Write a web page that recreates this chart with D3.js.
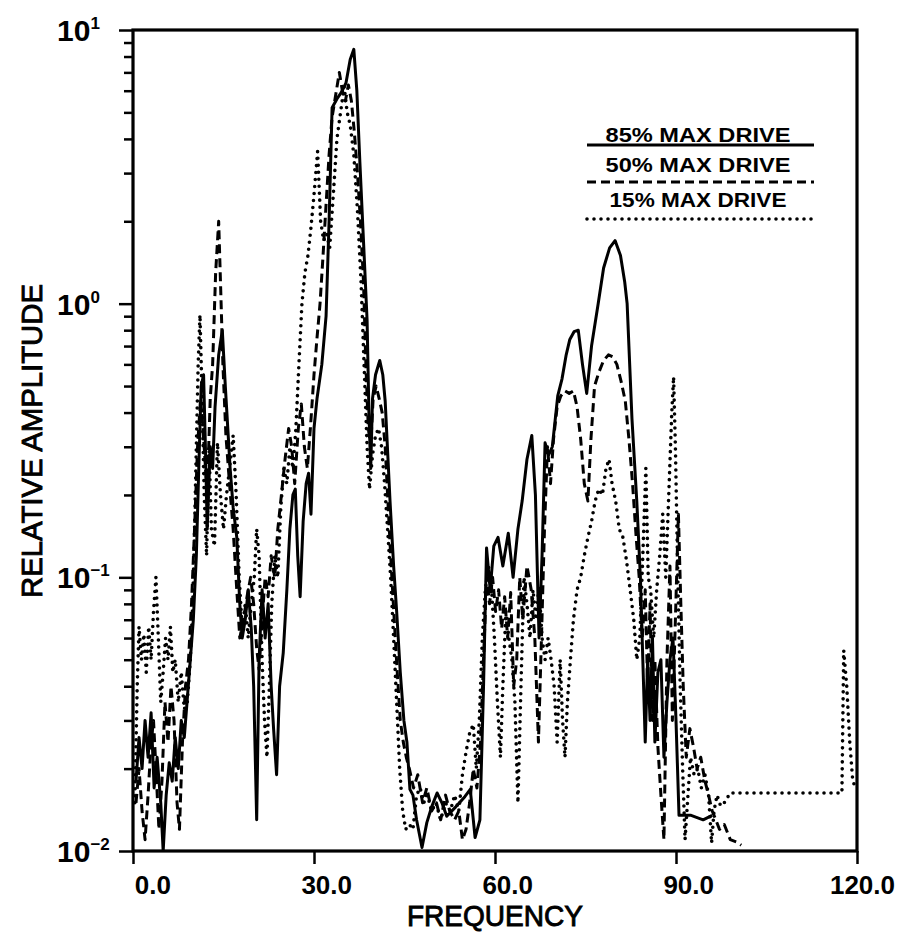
<!DOCTYPE html>
<html><head><meta charset="utf-8">
<script src="https://cdn.jsdelivr.net/npm/d3@7"></script>
<style>html,body{margin:0;padding:0;background:#fff;}svg{display:block;}</style>
</head><body>
<svg id="chart" width="902" height="933"></svg>
<script>
// ---- data (frequency, relative amplitude) ----
const seriesLabels = ["85% MAX DRIVE", "50% MAX DRIVE", "15% MAX DRIVE"];
const xTickValues = [0, 30, 60, 90, 120];
const xTickLabels = ["0.0", "30.0", "60.0", "90.0", "120.0"];
const yDecades = [0.01, 0.1, 1, 10];
const yExponents = ["-2", "-1", "0", "1"];

const drive85 = [[0.5,0.018],[1.0,0.026],[1.5,0.02],[2.0,0.03],[2.5,0.022],[3.0,0.032],[3.5,0.017],[4.0,0.022],[4.6,0.015],[5.0,0.010],[5.5,0.016],[6.0,0.021],[6.5,0.018],[7.0,0.026],[7.5,0.02],[8.0,0.03],[8.5,0.026],[9.0,0.036],[9.5,0.05],[10.0,0.07],[10.5,0.12],[10.9,0.25],[11.3,0.5],[11.7,0.55],[12.0,0.3],[12.3,0.15],[12.8,0.3],[13.2,0.25],[13.6,0.42],[14.2,0.65],[14.8,0.8],[15.3,0.5],[16.1,0.25],[16.6,0.18],[17.2,0.14],[17.7,0.08],[18.1,0.06],[18.6,0.07],[19.1,0.09],[19.6,0.065],[20.0,0.04],[20.5,0.013],[20.9,0.05],[21.4,0.09],[21.9,0.06],[22.4,0.08],[22.9,0.04],[23.3,0.028],[23.8,0.019],[24.3,0.04],[24.9,0.053],[25.5,0.09],[26.0,0.15],[26.5,0.2],[26.9,0.21],[27.3,0.12],[27.7,0.085],[28.2,0.16],[28.7,0.22],[29.1,0.24],[29.5,0.17],[30.0,0.35],[30.5,0.45],[31.3,0.6],[32.0,0.9],[32.5,2.0],[33.0,5.2],[33.8,5.6],[34.5,5.9],[35.3,6.4],[36.0,7.8],[36.6,8.5],[37.1,6.0],[37.6,3.3],[38.2,1.7],[38.8,0.87],[39.1,0.4],[39.4,0.25],[39.7,0.45],[40.2,0.55],[40.9,0.62],[41.4,0.55],[41.8,0.44],[42.6,0.19],[43.2,0.11],[43.7,0.075],[44.3,0.045],[44.9,0.03],[45.4,0.025],[45.9,0.0168],[46.4,0.016],[47.0,0.013],[47.9,0.0103],[48.7,0.0127],[49.5,0.0145],[50.4,0.0163],[51.2,0.015],[52.0,0.0134],[53.5,0.0145],[55.0,0.0158],[55.9,0.0168],[56.7,0.0112],[57.5,0.013],[58.1,0.04],[58.6,0.128],[59.2,0.09],[59.8,0.13],[60.5,0.14],[61.3,0.11],[62.2,0.145],[63.0,0.1],[63.8,0.15],[64.5,0.19],[65.3,0.27],[66.1,0.33],[66.7,0.2],[67.3,0.06],[67.8,0.12],[68.3,0.31],[68.9,0.28],[69.5,0.3],[70.4,0.46],[71.1,0.53],[71.8,0.65],[72.4,0.74],[73.1,0.79],[73.8,0.8],[74.5,0.6],[75.2,0.47],[76.0,0.7],[77.1,1.0],[78.0,1.35],[79.0,1.6],[79.9,1.7],[80.8,1.5],[81.5,1.2],[81.9,1.0],[82.7,0.38],[83.5,0.19],[84.1,0.1],[84.5,0.05],[84.9,0.025],[85.3,0.05],[85.7,0.03],[86.1,0.06],[86.5,0.025],[87.0,0.045],[87.5,0.05],[88.0,0.022],[88.5,0.035],[89.0,0.05],[89.5,0.06],[90.0,0.03],[90.5,0.0135],[92.5,0.0135],[94.5,0.013],[96.0,0.0135]];

const drive50 = [[0.5,0.015],[1.0,0.02],[1.5,0.014],[2.0,0.011],[2.5,0.016],[3.0,0.025],[3.4,0.03],[3.8,0.02],[4.3,0.012],[4.8,0.018],[5.3,0.035],[5.8,0.025],[6.3,0.04],[6.8,0.03],[7.3,0.015],[7.7,0.012],[8.2,0.025],[8.7,0.04],[9.2,0.05],[9.7,0.08],[10.2,0.15],[10.7,0.3],[11.2,0.45],[11.6,0.35],[12.3,0.2],[12.8,0.45],[13.2,0.6],[13.7,1.3],[14.2,2.0],[14.5,1.2],[14.9,0.6],[15.4,0.33],[16.0,0.22],[16.6,0.15],[17.2,0.09],[17.7,0.06],[18.3,0.07],[18.9,0.085],[19.5,0.1],[20.0,0.08],[20.5,0.055],[20.9,0.046],[21.4,0.07],[21.9,0.1],[22.4,0.085],[22.9,0.12],[23.5,0.1],[24.0,0.15],[24.6,0.2],[25.2,0.27],[25.8,0.35],[26.3,0.3],[26.8,0.22],[27.4,0.35],[27.9,0.43],[28.4,0.3],[28.9,0.25],[29.4,0.35],[30.0,0.55],[30.5,0.75],[31.0,1.0],[31.5,1.5],[32.0,2.3],[32.5,3.5],[33.0,4.8],[33.6,5.8],[34.2,7.0],[34.7,6.0],[35.2,5.5],[35.7,6.3],[36.2,5.5],[36.7,4.2],[37.2,3.0],[37.7,2.0],[38.2,1.2],[38.6,0.6],[39.0,0.35],[39.4,0.3],[39.8,0.45],[40.3,0.5],[40.8,0.45],[41.3,0.4],[41.8,0.3],[42.3,0.18],[42.8,0.11],[43.3,0.07],[43.8,0.045],[44.3,0.03],[44.8,0.025],[45.3,0.022],[45.8,0.02],[46.5,0.017],[47.2,0.019],[48.0,0.015],[48.7,0.017],[49.5,0.014],[50.3,0.015],[51.0,0.013],[51.8,0.016],[52.5,0.014],[53.3,0.013],[54.0,0.014],[54.6,0.011],[55.2,0.012],[55.8,0.015],[56.4,0.02],[57.0,0.017],[57.6,0.025],[58.1,0.05],[58.6,0.1],[59.1,0.08],[59.6,0.1],[60.1,0.075],[60.6,0.09],[61.1,0.065],[61.6,0.085],[62.1,0.06],[62.6,0.088],[63.1,0.04],[63.6,0.05],[64.1,0.1],[64.6,0.07],[65.3,0.11],[66.0,0.09],[66.6,0.06],[67.2,0.025],[67.7,0.06],[68.2,0.15],[68.7,0.3],[69.2,0.22],[69.7,0.32],[70.3,0.42],[70.9,0.46],[71.6,0.48],[72.3,0.47],[73.0,0.48],[73.6,0.42],[74.2,0.32],[74.8,0.22],[75.4,0.19],[75.9,0.32],[76.5,0.5],[77.2,0.56],[78.0,0.62],[78.8,0.65],[79.5,0.64],[80.2,0.6],[80.9,0.52],[81.6,0.44],[82.2,0.32],[82.8,0.22],[83.4,0.14],[83.9,0.1],[84.4,0.06],[84.9,0.09],[85.3,0.04],[85.7,0.08],[86.1,0.03],[86.5,0.05],[87.0,0.024],[87.5,0.016],[88.0,0.011],[88.5,0.05],[89.0,0.11],[89.4,0.03],[89.9,0.07],[90.4,0.17],[90.8,0.08],[91.2,0.04],[91.7,0.022],[92.3,0.028],[92.9,0.024],[93.5,0.02],[94.1,0.022],[94.8,0.018],[95.4,0.016],[96.0,0.014],[96.6,0.013],[97.2,0.012],[98.0,0.0125],[99.0,0.011],[100.0,0.0108],[100.8,0.0105]];

const drive15 = [[0.3,0.015],[0.7,0.04],[1.0,0.066],[1.4,0.05],[1.8,0.062],[2.2,0.045],[2.6,0.066],[3.0,0.05],[3.4,0.075],[3.8,0.1],[4.2,0.06],[4.6,0.035],[5.0,0.045],[5.4,0.06],[5.8,0.05],[6.2,0.066],[6.6,0.045],[7.0,0.05],[7.5,0.035],[8.0,0.045],[8.5,0.033],[9.0,0.035],[9.5,0.05],[9.9,0.08],[10.2,0.15],[10.5,0.3],[10.8,0.6],[11.1,0.91],[11.4,0.5],[11.8,0.2],[12.2,0.12],[12.6,0.3],[13.0,0.15],[13.5,0.13],[14.0,0.31],[14.5,0.2],[15.0,0.15],[15.5,0.2],[16.0,0.25],[16.6,0.33],[17.1,0.2],[17.6,0.1],[18.1,0.065],[18.6,0.08],[19.1,0.06],[19.6,0.08],[20.1,0.1],[20.5,0.15],[20.9,0.12],[21.4,0.05],[21.8,0.03],[22.2,0.022],[22.6,0.04],[23.0,0.08],[23.5,0.12],[24.0,0.1],[24.5,0.18],[25.0,0.25],[25.5,0.22],[26.0,0.3],[26.5,0.25],[27.0,0.35],[27.5,0.6],[28.0,1.0],[28.5,1.3],[29.0,1.5],[29.5,1.9],[30.0,2.5],[30.6,3.6],[31.1,2.0],[31.6,1.7],[32.1,1.8],[32.6,1.6],[33.2,2.5],[33.8,4.0],[34.4,5.0],[35.0,6.2],[35.5,5.0],[36.0,4.5],[36.6,3.5],[37.2,2.2],[37.8,1.2],[38.3,0.6],[38.8,0.3],[39.2,0.21],[39.7,0.28],[40.2,0.33],[40.7,0.35],[41.2,0.3],[41.7,0.22],[42.2,0.15],[42.7,0.1],[43.2,0.06],[43.7,0.035],[44.2,0.02],[44.7,0.014],[45.2,0.012],[45.8,0.0125],[46.4,0.012],[47.0,0.016],[47.6,0.017],[48.2,0.015],[48.8,0.016],[49.5,0.014],[50.2,0.015],[51.0,0.013],[51.8,0.015],[52.6,0.014],[53.3,0.016],[54.0,0.014],[54.6,0.019],[55.2,0.023],[55.8,0.027],[56.4,0.029],[56.9,0.02],[57.4,0.03],[57.9,0.06],[58.4,0.09],[58.9,0.11],[59.4,0.093],[59.9,0.06],[60.4,0.035],[60.9,0.022],[61.3,0.04],[61.8,0.075],[62.3,0.06],[62.8,0.05],[63.3,0.035],[63.8,0.015],[64.3,0.04],[64.8,0.1],[65.3,0.08],[65.8,0.06],[66.3,0.09],[66.8,0.07],[67.3,0.093],[67.8,0.06],[68.3,0.05],[68.8,0.06],[69.3,0.05],[69.8,0.04],[70.3,0.025],[70.8,0.05],[71.2,0.03],[71.6,0.022],[72.0,0.035],[72.5,0.05],[73.0,0.07],[73.6,0.09],[74.2,0.1],[74.8,0.12],[75.4,0.14],[76.0,0.16],[76.6,0.19],[77.2,0.21],[77.8,0.2],[78.4,0.25],[78.9,0.27],[79.4,0.22],[80.0,0.19],[80.6,0.15],[81.2,0.14],[81.8,0.115],[82.4,0.09],[83.0,0.07],[83.5,0.05],[84.0,0.06],[84.5,0.12],[85.0,0.25],[85.4,0.1],[85.8,0.09],[86.3,0.06],[86.8,0.09],[87.3,0.12],[87.8,0.17],[88.3,0.1],[88.8,0.2],[89.3,0.4],[89.6,0.54],[89.9,0.3],[90.3,0.1],[90.7,0.04],[91.1,0.02],[91.5,0.011],[91.9,0.015],[92.4,0.022],[93.0,0.019],[93.6,0.02],[94.2,0.017],[94.8,0.019],[95.4,0.016],[95.9,0.0107],[96.3,0.014],[96.8,0.016],[97.4,0.0146],[98.0,0.015],[99.0,0.0163],[117.5,0.0163],[117.8,0.054],[118.3,0.04],[118.8,0.025],[119.3,0.018],[119.8,0.017]];

// ---- drawing ----
const svg = d3.select("#chart");
const W = 902, H = 933;
const plot = {left: 133, right: 857, top: 30, bottom: 851};
const FONT = "'Liberation Sans', Arial, Helvetica, sans-serif";

svg.append("rect").attr("width", W).attr("height", H).attr("fill", "#fff");

const x = d3.scaleLinear().domain([0, 120]).range([plot.left, plot.right]);
const y = d3.scaleLog().domain([0.01, 10]).range([plot.bottom, plot.top]);

svg.append("defs").append("clipPath").attr("id", "clip")
  .append("rect").attr("x", plot.left).attr("y", plot.top - 2)
  .attr("width", plot.right - plot.left).attr("height", plot.bottom - plot.top + 2);

const line = d3.line().x(d => x(d[0])).y(d => y(d[1])).curve(d3.curveLinear);

const styles = [
  {data: drive85, dash: null, width: 3, cap: "butt"},
  {data: drive50, dash: "9,5", width: 3, cap: "butt"},
  {data: drive15, dash: "0,7", width: 3.6, cap: "round"}
];

const g = svg.append("g").attr("clip-path", "url(#clip)");
styles.forEach(s => {
  g.append("path").datum(s.data)
    .attr("d", line)
    .attr("fill", "none")
    .attr("stroke", "#000")
    .attr("stroke-width", s.width)
    .attr("stroke-linejoin", "round")
    .attr("stroke-linecap", s.cap)
    .attr("stroke-dasharray", s.dash);
});

// Axes
const minorTicks = [];
[0.01, 0.1, 1].forEach(d => { for (let k = 2; k <= 9; k++) minorTicks.push(d * k); });

const yMinor = svg.append("g").attr("transform", `translate(${plot.left},0)`)
  .call(d3.axisLeft(y).tickValues(minorTicks).tickSize(9).tickFormat(""));
const yMajor = svg.append("g").attr("transform", `translate(${plot.left},0)`)
  .call(d3.axisLeft(y).tickValues(yDecades).tickSize(14).tickFormat(""));
const xMajor = svg.append("g").attr("transform", `translate(0,${plot.bottom})`)
  .call(d3.axisBottom(x).tickValues(xTickValues).tickSize(13).tickFormat(""));
[yMinor, yMajor, xMajor].forEach(a => {
  a.select(".domain").remove();
  a.selectAll(".tick line").attr("stroke", "#000").attr("stroke-width", 2.5);
});

// frame
svg.append("rect").attr("x", plot.left).attr("y", plot.top)
  .attr("width", plot.right - plot.left).attr("height", plot.bottom - plot.top)
  .attr("fill", "none").attr("stroke", "#000").attr("stroke-width", 3.2);

// x tick labels
svg.append("g").selectAll("text").data(xTickValues).join("text")
  .attr("x", d => x(d) + 38)
  .attr("y", 894)
  .attr("text-anchor", "end")
  .attr("font-family", FONT).attr("font-weight", "bold").attr("font-size", 26)
  .text((d, i) => xTickLabels[i]);

// y tick labels 10^n
const yl = svg.append("g").selectAll("text").data(yDecades).join("text")
  .attr("x", 57)
  .attr("y", d => y(d) + 11)
  .attr("font-family", FONT).attr("font-weight", "bold").attr("font-size", 30);
yl.append("tspan").text("10");
yl.append("tspan").attr("dy", -12).attr("font-size", 17).text((d, i) => yExponents[i].replace("-", "\u2212"));

// axis titles
svg.append("text")
  .attr("x", x(60)).attr("y", 926)
  .attr("text-anchor", "middle")
  .attr("font-family", FONT).attr("font-size", 29)
  .attr("stroke", "#000").attr("stroke-width", 0.9)
  .attr("textLength", 176).attr("lengthAdjust", "spacingAndGlyphs")
  .text("FREQUENCY");

svg.append("text")
  .attr("transform", "translate(42,441) rotate(-90)")
  .attr("text-anchor", "middle")
  .attr("font-family", FONT).attr("font-size", 30)
  .attr("stroke", "#000").attr("stroke-width", 0.9)
  .attr("textLength", 314).attr("lengthAdjust", "spacingAndGlyphs")
  .text("RELATIVE AMPLITUDE");

// legend
const legend = svg.append("g");
const legY = [142, 172, 207];
const legLineY = [145, 182, 219];
styles.forEach((s, i) => {
  legend.append("text")
    .attr("x", 698).attr("y", legY[i])
    .attr("text-anchor", "middle")
    .attr("font-family", FONT).attr("font-weight", "bold").attr("font-size", 21)
    .attr("textLength", i === 2 ? 177 : 185).attr("lengthAdjust", "spacingAndGlyphs")
    .text(seriesLabels[i]);
  legend.append("line")
    .attr("x1", 587).attr("x2", 814)
    .attr("y1", legLineY[i]).attr("y2", legLineY[i])
    .attr("stroke", "#000").attr("stroke-width", s.width)
    .attr("stroke-linecap", s.cap)
    .attr("stroke-dasharray", s.dash);
});
</script>
</body></html>
